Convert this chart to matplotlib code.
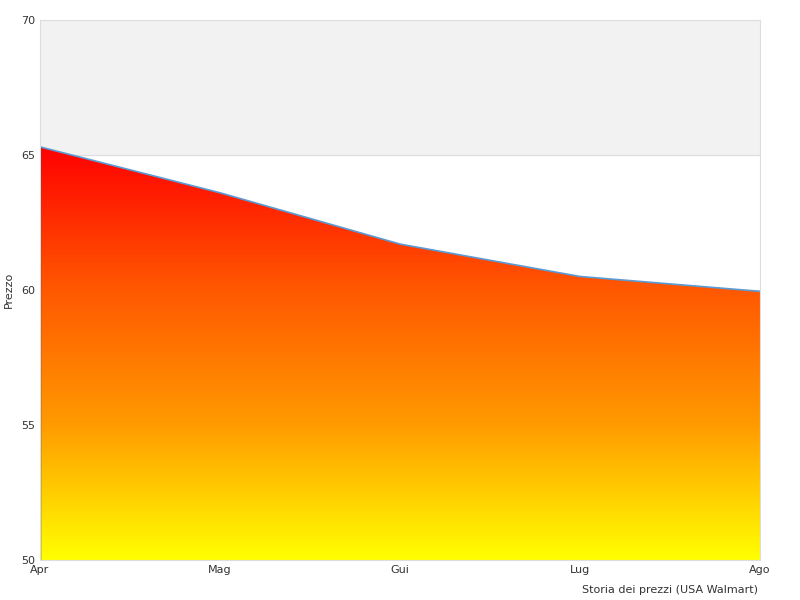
import matplotlib
matplotlib.use('Agg')
import matplotlib.pyplot as plt
import numpy as np
from matplotlib.colors import LinearSegmentedColormap

months = ['Apr', 'Mag', 'Gui', 'Lug', 'Ago']
prices = [65.3, 63.6, 61.7, 60.5, 59.95]

fig = plt.figure(figsize=(8, 6), dpi=100)
ax = fig.add_axes([0.05, 0.0667, 0.9, 0.9])
x = np.arange(len(months))

# alternating bands
ax.axhspan(65, 70, color='#f2f2f2', zorder=0)
ax.axhspan(55, 60, color='#f2f2f2', zorder=0)
for yv in [55, 60, 65]:
    ax.axhline(yv, color='#dddddd', lw=0.8, zorder=0.5)

poly = ax.fill_between(x, prices, 50, color='none', zorder=1)
cmap = LinearSegmentedColormap.from_list('ry', ['#ffff00', '#ff9900', '#ff5500', '#ff0000'])
grad = np.linspace(0, 1, 256).reshape(-1, 1)
img = ax.imshow(grad, cmap=cmap, origin='lower', aspect='auto',
                extent=[x[0], x[-1], 50, max(prices)], zorder=1)
img.set_clip_path(poly.get_paths()[0], transform=ax.transData)
ax.plot(x, prices, color='#5b9bd5', lw=1.2, zorder=2)
ax.plot([0, 0], [50, prices[0]], color='#333333', lw=1, zorder=2)

ax.set_xlim(0, len(months) - 1)
ax.set_ylim(50, 70)
ax.set_xticks(x)
ax.set_xticklabels(months)
ax.set_yticks([50, 55, 60, 65, 70])
ax.tick_params(labelsize=8, colors='#333333', length=0)
for s in ax.spines.values():
    s.set_color('#dddddd')
ax.set_ylabel('Prezzo', fontsize=8, color='#333333')
ax.yaxis.set_label_coords(-0.036, 0.5)
fig.text(0.948, 0.008, 'Storia dei prezzi (USA Walmart)', ha='right', va='bottom',
         fontsize=8, color='#333333')

fig.savefig('out.png')
